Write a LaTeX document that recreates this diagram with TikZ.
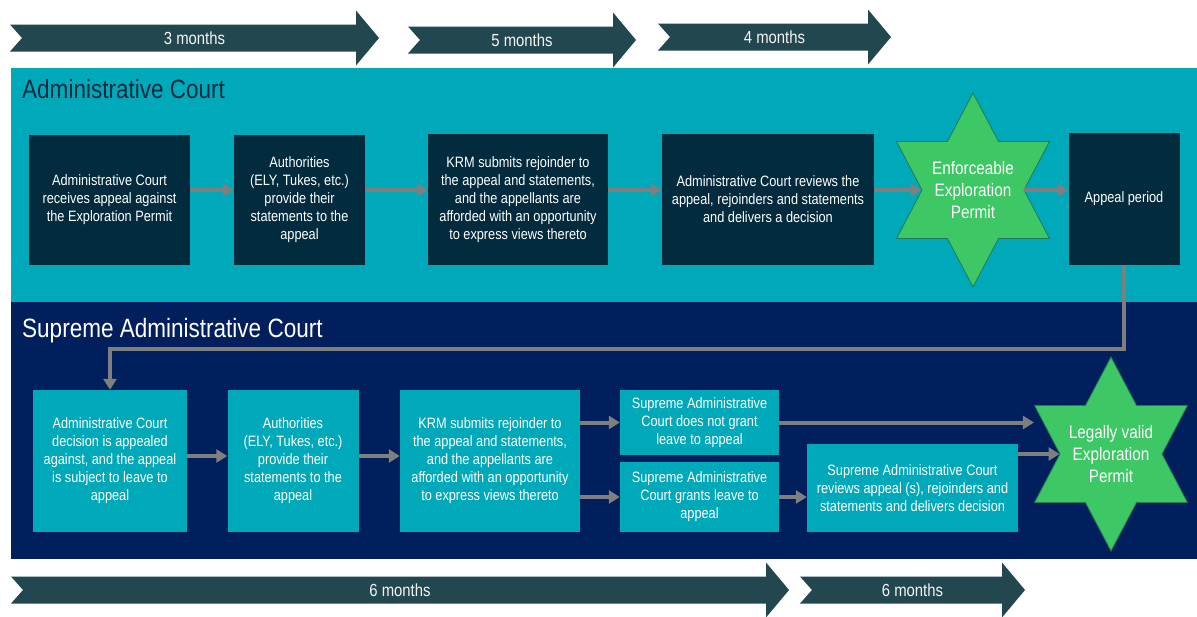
\documentclass[tikz,border=0pt]{standalone}
\usepackage{fontspec}
\setmainfont[FakeStretch=0.85]{Liberation Sans}
\usetikzlibrary{arrows.meta,shapes.geometric}
\definecolor{admteal}{HTML}{00A9BA}
\definecolor{supnavy}{HTML}{001F5C}
\definecolor{boxdark}{HTML}{032B3E}
\definecolor{arrowgray}{HTML}{7F7F7F}
\definecolor{permitgreen}{HTML}{3EC865}
\definecolor{permitedge}{HTML}{1F7A55}
\definecolor{spangray}{HTML}{22474F}

\begin{document}
\begin{tikzpicture}[x=1pt,y=-1pt]
 \tikzset{
  stagebox/.style={
    fill=#1, text=white, align=center, inner sep=3pt,
    font=\fontsize{15}{18}\selectfont
  },
  courtbox/.style={stagebox=boxdark},
  supbox/.style={stagebox=admteal},
  permit/.style={star, star points=6, star point ratio=1.73,
    minimum size=194, inner sep=0pt, fill=permitgreen, draw=permitedge,
    line width=0.8pt, xscale=0.91, transform shape},
  permittext/.style={text=white, align=center,
    font=\fontsize{18}{22}\selectfont},
  flow/.style={draw=arrowgray, line width=4pt,
    -{Triangle[width=13pt,length=11pt]}},
  period/.style={fill=spangray},
  periodtext/.style={text=white!92!gray, font=\fontsize{17.5}{20}\selectfont},
  title/.style={anchor=base west, inner sep=0pt, font=\fontsize{26.5}{30}\selectfont}
}
\useasboundingbox (0,0) rectangle (1197,616);

% time spans
\foreach \xa/\xb/\yc/\lab [count=\i] in {10/356/38/3 months, 408/613/40/5 months,
    658/868/37/4 months, 11/766/590/6 months, 800/1002/590/6 months}
{
  \fill[period] (\xa,\yc-13.5) -- (\xb,\yc-13.5) -- (\xb,\yc-27.5) -- (\xb+23,\yc)
    -- (\xb,\yc+27.5) -- (\xb,\yc+13.5) -- (\xa,\yc+13.5) -- (\xa+12,\yc) -- cycle;
  \node[periodtext] (span\i) at ({(\xa+\xb+23)/2},\yc) {\lab};
}

% courts
\fill[admteal] (11,68) rectangle (1197,302);
\fill[supnavy] (11,302) rectangle (1197,559);
\node[title, text=boxdark] (adm) at (22,98) {Administrative Court};
\node[title, text=white] (sup) at (22,337) {Supreme Administrative Court};

% administrative court
\node[courtbox, minimum width=161, minimum height=130] (rec) at (109.5,200)
  {Administrative Court\\receives appeal against\\the Exploration Permit};
\node[courtbox, minimum width=131, minimum height=130] (auth) at (299.5,200)
  {Authorities\\(ELY, Tukes, etc.)\\provide their\\statements to the\\appeal};
\node[courtbox, minimum width=180, minimum height=131] (krm) at (518,199.5)
  {KRM submits rejoinder to\\the appeal and statements,\\and the appellants are\\afforded with an opportunity\\to express views thereto};
\node[courtbox, minimum width=212, minimum height=131] (rev) at (768,199.5)
  {Administrative Court reviews the\\appeal, rejoinders and statements\\and delivers a decision};
\node[permit] (ep) at (973,190) {};
\node[permittext] (eptext) at (ep) {Enforceable\\Exploration\\Permit};
\node[courtbox, minimum width=111, minimum height=132] (ap) at (1124,199) {Appeal period};

% supreme administrative court
\node[supbox, minimum width=154, minimum height=142] (dec) at (110,461)
  {Administrative Court\\decision is appealed\\against, and the appeal\\is subject to leave to\\appeal};
\node[supbox, minimum width=131, minimum height=142] (auth2) at (293,461)
  {Authorities\\(ELY, Tukes, etc.)\\provide their\\statements to the\\appeal};
\node[supbox, minimum width=180, minimum height=142] (krm2) at (490,461)
  {KRM submits rejoinder to\\the appeal and statements,\\and the appellants are\\afforded with an opportunity\\to express views thereto};
\node[supbox, minimum width=159, minimum height=65] (deny) at (699.5,422.5)
  {Supreme Administrative\\Court does not grant\\leave to appeal};
\node[supbox, minimum width=159, minimum height=70] (grant) at (699.5,497)
  {Supreme Administrative\\Court grants leave to\\appeal};
\node[supbox, minimum width=211, minimum height=88] (rev2) at (912.5,488)
  {Supreme Administrative Court\\reviews appeal (s), rejoinders and\\statements and delivers decision};
\node[permit] (lv) at (1111,454) {};
\node[permittext] (lvtext) at (lv) {Legally valid\\Exploration\\Permit};

% connectors
\coordinate (lane) at (0,190);
\coordinate (lane2) at (0,456);
\draw[flow] (rec.east |- lane) -- (auth.west |- lane);
\draw[flow] (auth.east |- lane) -- (krm.west |- lane);
\draw[flow] (krm.east |- lane) -- (rev.west |- lane);
\draw[flow] (rev.east |- lane) -- (ep.west);
\draw[flow] (ep.east) -- (ap.west |- ep.east);
\draw[flow] (ap.south) -- ++(0,84) -| (dec.north);
\draw[flow] (dec.east |- lane2) -- (auth2.west |- lane2);
\draw[flow] (auth2.east |- lane2) -- (krm2.west |- lane2);
\draw[flow] (krm2.east |- deny.west) -- (deny.west);
\draw[flow] (krm2.east |- grant.west) -- (grant.west);
\draw[flow] (deny.east) -- (deny.east -| lv.outer point 2);
\draw[flow] (grant.east) -- (grant.east -| rev2.west);
\draw[flow] (rev2.east |- lv.west) -- (lv.west);
\end{tikzpicture}
\end{document}
